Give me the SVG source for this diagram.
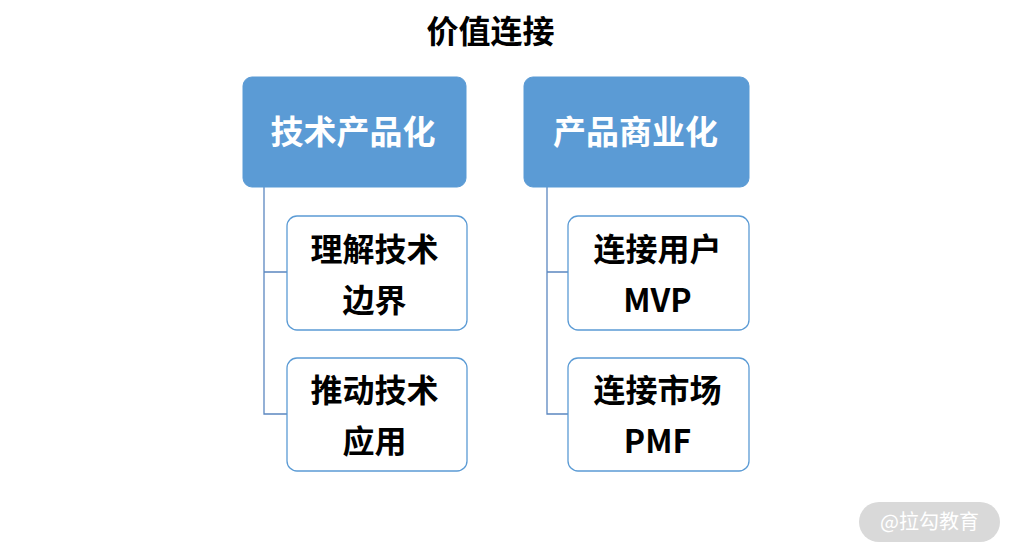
<svg xmlns="http://www.w3.org/2000/svg" width="1015" height="555" viewBox="0 0 1015 555">
<style>
.hd{fill:#5b9bd5;stroke:#5b9bd5;stroke-width:1}
.ch{fill:#fff;stroke:#5b9bd5;stroke-width:1.3}
.t{font-family:"Noto Sans CJK SC","Liberation Sans",sans-serif;font-weight:bold;text-anchor:middle}
.ht{fill:#fff;font-size:33px}
.ct{fill:#000;font-size:32px}
.cn{fill:none;stroke:#5b87c0;stroke-width:1.3}
</style>
<rect width="1015" height="555" fill="#fff"/>
<g id="title"><text class="t" x="490.5" y="43" font-size="32" fill="#000">价值连接</text></g>
<g id="connectors">
<path class="cn" d="M264,187 V414 H287 M264,272 H287"/>
<path class="cn" d="M547,187 V414 H568 M547,272 H568"/>
</g>
<g id="n1"><rect class="hd" x="243" y="77" width="223" height="110" rx="9"/><text class="t ht" x="353" y="144">技术产品化</text></g>
<g id="n2"><rect class="hd" x="524" y="77" width="225" height="110" rx="9"/><text class="t ht" x="635.5" y="144">产品商业化</text></g>
<g id="n3"><rect class="ch" x="287" y="216" width="180" height="114" rx="10"/><text class="t ct" x="374.5" y="261">理解技术</text><text class="t ct" x="374.5" y="312">边界</text></g>
<g id="n4"><rect class="ch" x="287" y="358" width="180" height="113" rx="10"/><text class="t ct" x="374.5" y="402">推动技术</text><text class="t ct" x="374.5" y="453">应用</text></g>
<g id="n5"><rect class="ch" x="568" y="216" width="181" height="114" rx="10"/><text class="t ct" x="657.5" y="261">连接用户</text><text class="t ct" x="657.5" y="312">MVP</text></g>
<g id="n6"><rect class="ch" x="568" y="358" width="181" height="113" rx="10"/><text class="t ct" x="657.5" y="402">连接市场</text><text class="t ct" x="657.5" y="453">PMF</text></g>
<g id="wm"><rect x="859" y="502" width="141" height="40" rx="20" fill="#d9d9d9"/><text x="929.5" y="529" font-family="'Noto Sans CJK SC',sans-serif" font-size="20" fill="#fff" text-anchor="middle">@拉勾教育</text></g>
</svg>
